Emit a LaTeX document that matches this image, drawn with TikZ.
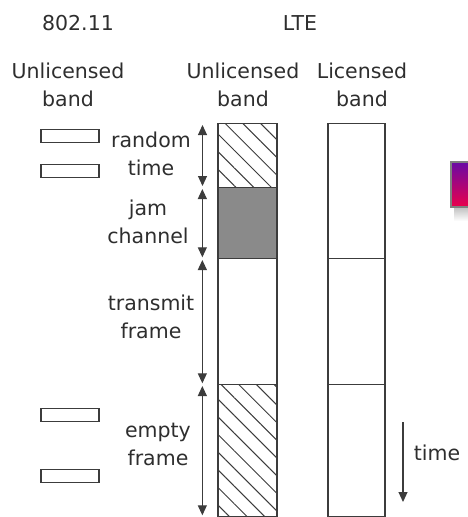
\documentclass[tikz,border=0pt]{standalone}
\usepackage{fontspec}
\setmainfont{DejaVu Sans}
\usetikzlibrary{arrows.meta,patterns.meta}
\definecolor{ink}{HTML}{2E2E2E}
\definecolor{edge}{HTML}{3C3C3C}
\definecolor{jamgray}{HTML}{8A8A8A}
\definecolor{logotop}{RGB}{105,10,165}
\definecolor{logobot}{RGB}{235,0,75}
\begin{document}
\begin{tikzpicture}[x=1pt,y=-1pt,line width=1.3pt,
  >={Triangle[length=10pt,width=9pt]},
  every node/.style={font=\fontsize{20.5}{28}\selectfont,text=ink,align=center},
  seg/.style={draw=edge,inner sep=0pt,anchor=north},
  hatch/.style={pattern={Lines[angle=-45,distance=12.5pt,line width=1pt]},pattern color=edge},
  frm/.style={draw=edge,inner sep=0pt,minimum width=58pt,minimum height=13pt},
  span/.style={<->,draw=edge,line width=1.1pt,shorten <=2pt,shorten >=2pt}]
\useasboundingbox (0,0) rectangle (467,517);
% headings
\node (t802) at (78,23) {802.11};
\node (tlte) at (300,23) {LTE};
\node (hwifi) at (68,85) {Unlicensed\\band};
\node (hunl) at (243,85) {Unlicensed\\band};
\node (hlic) at (362,85) {Licensed\\band};
% 802.11 frames
\node[frm] (w1) at (70,136) {};
\node[frm] (w2) at (70,171) {};
\node[frm] (w3) at (70,415) {};
\node[frm] (w4) at (70,476) {};
% LTE unlicensed band
\node[seg,hatch,minimum width=59pt,minimum height=64pt] (rnd) at (247.5,123) {};
\node[seg,fill=jamgray,minimum width=59pt,minimum height=71pt] (jam) at (247.5,187) {};
\node[seg,minimum width=59pt,minimum height=126pt] (tx) at (247.5,258) {};
\node[seg,hatch,minimum width=59pt,minimum height=132pt] (emp) at (247.5,384) {};
% LTE licensed band
\node[seg,minimum width=57pt,minimum height=135pt] (lic1) at (356.5,123) {};
\node[seg,minimum width=57pt,minimum height=126pt] (lic2) at (356.5,258) {};
\node[seg,minimum width=57pt,minimum height=132pt] (lic3) at (356.5,384) {};
% durations
\foreach \s in {rnd,jam,tx,emp}
  \draw[span] ([xshift=-15pt]\s.north west) -- ([xshift=-15pt]\s.south west);
\node (lrnd) at (151,154) {random\\time};
\node (ljam) at (148,222) {jam\\channel};
\node (ltx) at (151,317) {transmit\\frame};
\node (lemp) at (158,444) {empty\\frame};
% time axis
\node (ltime) at (437,453) {time};
\coordinate (ta) at (403,422);
\coordinate (tb) at (403,502);
\draw[->,draw=edge,line width=1.1pt] (ta) -- (tb);
% logo at the edge
\shade[top color=black!25,bottom color=white,draw=none] (454,207) rectangle (470,221);
\shade[top color=logotop,bottom color=logobot,draw=gray,line width=1.5pt] (451,162) rectangle (480,207);
\end{tikzpicture}
\end{document}
